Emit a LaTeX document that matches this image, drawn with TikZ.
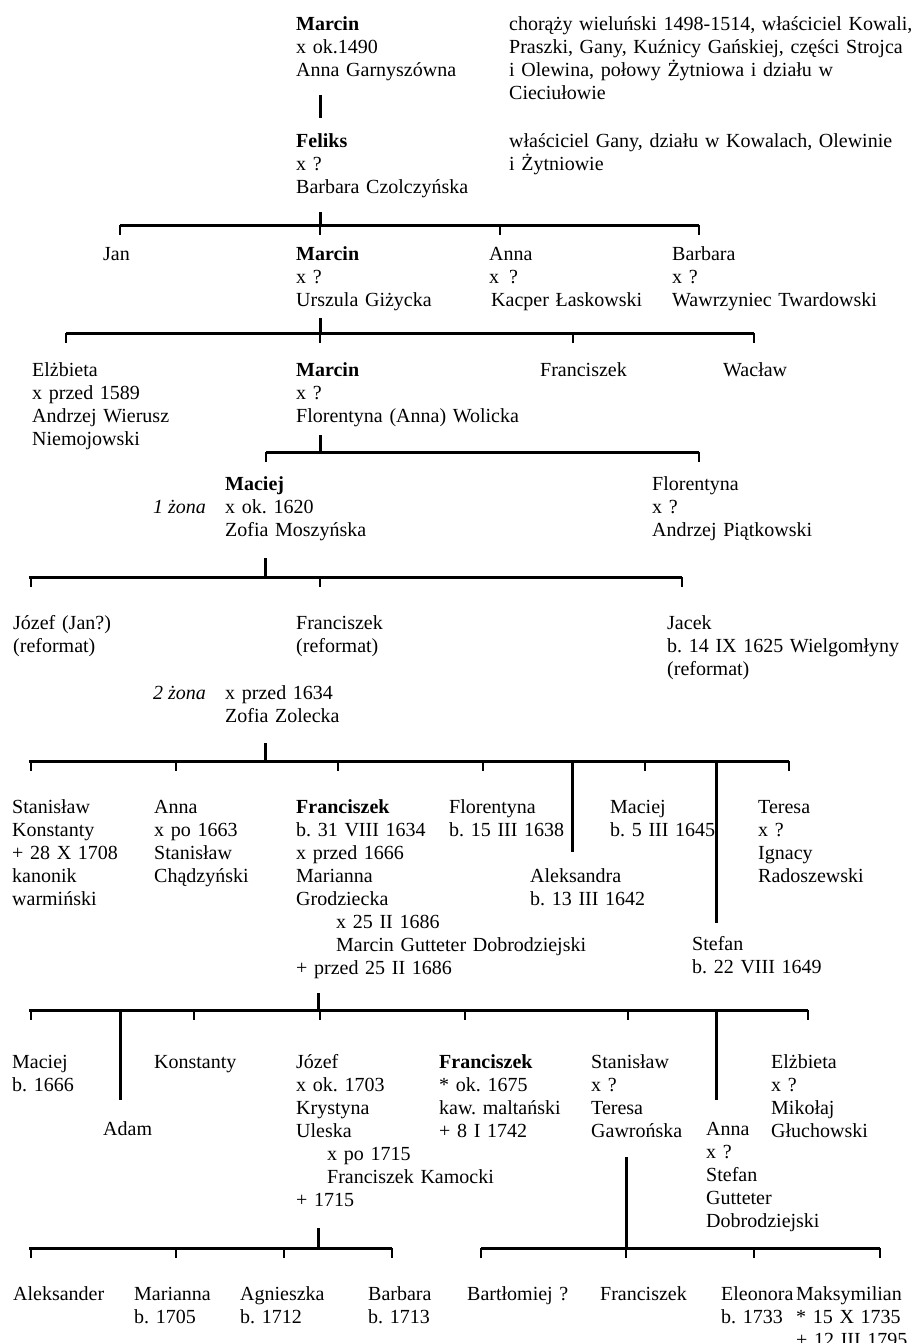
\documentclass[tikz,border=0pt]{standalone}
\usepackage{fontspec}
\setmainfont{Liberation Serif}

\begin{document}
\begin{tikzpicture}[x=1pt, y=-1pt]

    \tikzstyle{person} = [anchor=north west, yshift=18pt, inner sep=0pt, text width=450pt, align=left, font=\fontsize{20}{23}\selectfont\frenchspacing, execute at begin node={\rule{0pt}{18pt}}]
    \tikzstyle{wifeno} = [anchor=base east, inner sep=0pt, font=\fontsize{20}{23}\selectfont\itshape]
    \tikzstyle{bar} = [line width=3pt]
    \tikzstyle{stem} = [line width=3pt]
    \tikzstyle{stub} = [line width=1.4pt]

    \path [use as bounding box, fill=white] (0,0) rectangle (919,1343);

    % Nodes
    \node (marcin1) [person] at (296,30) {\textbf{Marcin}\\x ok.1490\\Anna Garnyszówna};
    \node (note1) [person] at (509,30) {chorąży wieluński 1498-1514, właściciel Kowali,\\Praszki, Gany, Kuźnicy Gańskiej, części Strojca\\i Olewina, połowy Żytniowa i działu w\\Cieciułowie};
    \node (feliks) [person] at (296,147) {\textbf{Feliks}\\x ?\\Barbara Czolczyńska};
    \node (note2) [person] at (509,147) {właściciel Gany, działu w Kowalach, Olewinie\\i Żytniowie};

    \node (jan) [person] at (103,260) {Jan};
    \node (marcin2) [person] at (296,260) {\textbf{Marcin}\\x ?\\Urszula Giżycka};
    \node (anna1) [person] at (489,260) {Anna\\x\hspace{0.5em}?\\\hspace*{2pt}Kacper Łaskowski};
    \node (barbara1) [person] at (672,260) {Barbara\\x ?\\Wawrzyniec Twardowski};

    \node (elzbieta1) [person] at (32,376) {Elżbieta\\x przed 1589\\Andrzej Wierusz\\Niemojowski};
    \node (marcin3) [person] at (296,376) {\textbf{Marcin}\\x ?\\Florentyna (Anna) Wolicka};
    \node (franciszek1) [person] at (540,376) {Franciszek};
    \node (waclaw) [person] at (723,376) {Wacław};

    \node (maciej1) [person] at (225,490) {\textbf{Maciej}\\x ok. 1620\\Zofia Moszyńska};
    \node (zona1) [wifeno] at (206,513) {1 żona};
    \node (florentyna1) [person] at (652,490) {Florentyna\\x ?\\Andrzej Piątkowski};

    \node (jozef1) [person] at (13,629) {Józef (Jan?)\\(reformat)};
    \node (franciszek2) [person] at (296,629) {Franciszek\\(reformat)};
    \node (jacek) [person] at (667,629) {Jacek\\b. 14 IX 1625 Wielgomłyny\\(reformat)};
    \node (zona2) [wifeno] at (206,699) {2 żona};
    \node (zolecka) [person] at (225,699) {x przed 1634\\Zofia Zolecka};

    \node (stanislaw1) [person] at (12,813) {Stanisław\\Konstanty\\+ 28 X 1708\\kanonik\\warmiński};
    \node (anna2) [person] at (154,813) {Anna\\x po 1663\\Stanisław\\Chądzyński};
    \node (franciszek3) [person] at (296,813) {\textbf{Franciszek}\\b. 31 VIII 1634\\x przed 1666\\Marianna\\Grodziecka\\\hspace*{40pt}x 25 II 1686\\\hspace*{40pt}Marcin Gutteter Dobrodziejski\\+ przed 25 II 1686};
    \node (florentyna2) [person] at (449,813) {Florentyna\\b. 15 III 1638};
    \node (aleksandra) [person] at (530,882) {Aleksandra\\b. 13 III 1642};
    \node (maciej2) [person] at (610,813) {Maciej\\b. 5 III 1645};
    \node (teresa) [person] at (758,813) {Teresa\\x ?\\Ignacy\\Radoszewski};
    \node (stefan) [person] at (692,950) {Stefan\\b. 22 VIII 1649};

    \node (maciej3) [person] at (12,1068) {Maciej\\b. 1666};
    \node (adam) [person] at (103,1135) {Adam};
    \node (konstanty) [person] at (154,1068) {Konstanty};
    \node (jozef2) [person] at (296,1068) {Józef\\x ok. 1703\\Krystyna\\Uleska\\\hspace*{31pt}x po 1715\\\hspace*{31pt}Franciszek Kamocki\\+ 1715};
    \node (franciszek4) [person] at (439,1068) {\textbf{Franciszek}\\{*} ok. 1675\\kaw. maltański\\+ 8 I 1742};
    \node (stanislaw2) [person] at (591,1068) {Stanisław\\x ?\\Teresa\\Gawrońska};
    \node (anna3) [person] at (706,1135) {Anna\\x ?\\Stefan\\Gutteter\\Dobrodziejski};
    \node (elzbieta2) [person] at (771,1068) {Elżbieta\\x ?\\Mikołaj\\Głuchowski};

    \node (aleksander) [person] at (13,1300) {Aleksander};
    \node (marianna) [person] at (134,1300) {Marianna\\b. 1705};
    \node (agnieszka) [person] at (240,1300) {Agnieszka\\b. 1712};
    \node (barbara2) [person] at (368,1300) {Barbara\\b. 1713};
    \node (bartlomiej) [person] at (467,1300) {Bartłomiej ?};
    \node (franciszek5) [person] at (600,1300) {Franciszek};
    \node (eleonora) [person] at (721,1300) {Eleonora\\b. 1733};
    \node (maksymilian) [person] at (796,1300) {Maksymilian\\{*} 15 X 1735\\+ 12 III 1795};

    % Coordinates
    \coordinate (stem1) at (320,95);
    \coordinate (stem2) at (320,212);   \coordinate (bar2w) at (120,225);  \coordinate (bar2e) at (699,225);
    \coordinate (stem3) at (320,318);   \coordinate (bar3w) at (66,333);   \coordinate (bar3e) at (754,333);
    \coordinate (stem4) at (320,435);   \coordinate (bar4w) at (266,452);  \coordinate (bar4e) at (699,452);
    \coordinate (stem5) at (265,558);   \coordinate (bar5w) at (29,577);   \coordinate (bar5e) at (682,577);
    \coordinate (stem6) at (265,743);   \coordinate (bar6w) at (29,761);   \coordinate (bar6e) at (789,761);
    \coordinate (stem7) at (318,993);   \coordinate (bar7w) at (29,1010);  \coordinate (bar7e) at (808,1010);
    \coordinate (stem8) at (318,1228);  \coordinate (bar8w) at (29,1248);  \coordinate (bar8e) at (392,1248);
    \coordinate (stem9) at (626,1157);  \coordinate (bar9w) at (481,1248); \coordinate (bar9e) at (880,1248);
    \coordinate (aleksandraend) at (572,852);
    \coordinate (stefanend) at (716,923);
    \coordinate (adamend) at (120,1100);
    \coordinate (annaend) at (716,1100);

    % Lines
    \draw [stem] (stem1) -- ++(0,23);
    \draw [stem] (stem2) -- (stem2 |- bar2w);
    \draw [stem] (stem3) -- (stem3 |- bar3w);
    \draw [stem] (stem4) -- (stem4 |- bar4w);
    \draw [stem] (stem5) -- (stem5 |- bar5w);
    \draw [stem] (stem6) -- (stem6 |- bar6w);
    \draw [stem] (stem7) -- (stem7 |- bar7w);
    \draw [stem] (stem8) -- (stem8 |- bar8w);
    \draw [stem] (stem9) -- (stem9 |- bar9w);

    \draw [bar] (bar2w) -- (bar2e);
    \draw [bar] (bar3w) -- (bar3e);
    \draw [bar] (bar4w) -- (bar4e);
    \draw [bar] (bar5w) -- (bar5e);
    \draw [bar] (bar6w) -- (bar6e);
    \draw [bar] (bar7w) -- (bar7e);
    \draw [bar] (bar8w) -- (bar8e);
    \draw [bar] (bar9w) -- (bar9e);

    \foreach \x in {120,320,500,699} \draw [stub] (bar2w -| \x,0) -- ++(0,10);
    \foreach \x in {66,320,573,754} \draw [stub] (bar3w -| \x,0) -- ++(0,10);
    \foreach \x in {266,699} \draw [stub] (bar4w -| \x,0) -- ++(0,10);
    \foreach \x in {31,320,682} \draw [stub] (bar5w -| \x,0) -- ++(0,10);
    \foreach \x in {31,176,338,483,645,789} \draw [stub] (bar6w -| \x,0) -- ++(0,10);
    \foreach \x in {31,194,320,465,628,808} \draw [stub] (bar7w -| \x,0) -- ++(0,10);
    \foreach \x in {31,176,284,392} \draw [stub] (bar8w -| \x,0) -- ++(0,10);
    \foreach \x in {481,626,754,880} \draw [stub] (bar9w -| \x,0) -- ++(0,10);

    \draw [stem] (bar6w -| aleksandraend) -- (aleksandraend);
    \draw [stem] (bar6w -| stefanend) -- (stefanend);
    \draw [stem] (bar7w -| adamend) -- (adamend);
    \draw [stem] (bar7w -| annaend) -- (annaend);

\end{tikzpicture}
\end{document}
